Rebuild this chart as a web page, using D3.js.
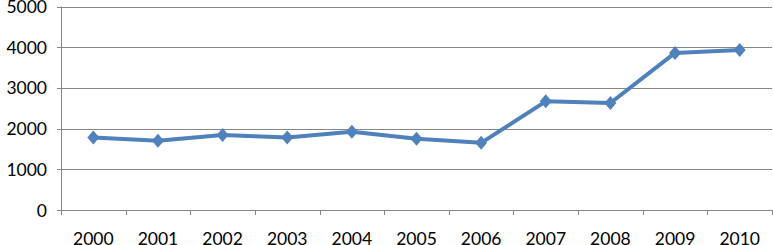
<!DOCTYPE html>
<html>
<head>
<meta charset="utf-8">
<script src="https://cdn.jsdelivr.net/npm/d3@7"></script>
<style>
  body { margin: 0; background: #fff; overflow: hidden; }
  text { font-family: Lato, "Open Sans", sans-serif; font-size: 17.5px; fill: #000; }
</style>
</head>
<body>
<div id="chart"></div>
<script>
	/*Data*/
	var years = ["2000","2001","2002","2003","2004","2005","2006","2007","2008","2009","2010"];
	var values = [1780, 1700, 1840, 1780, 1920, 1750, 1650, 2670, 2630, 3860, 3930];
	var yTicks = [0, 1000, 2000, 3000, 4000, 5000];

	/*SVG Size*/
	var width = 773;
	var height = 245;
	var plotLeft = 61, plotRight = 772, plotTop = 6.5, plotBottom = 210;

	var svg = d3.select("#chart").append("svg")
				.attr("width", width)
				.attr("height", height)
				.style("display", "block");

	var x = d3.scaleBand().domain(years).range([plotLeft, plotRight]);
	var y = d3.scaleLinear().domain([0, 5000]).range([plotBottom, plotTop]);

	/*Grid*/
	svg.append("g")
	   .selectAll("line")
	   .data(yTicks)
	   .enter().append("line")
	   .attr("x1", plotLeft - 4)
	   .attr("x2", plotRight)
	   .attr("y1", function(d){ return Math.round(y(d)) + 0.5; })
	   .attr("y2", function(d){ return Math.round(y(d)) + 0.5; })
	   .attr("stroke", "#878787")
	   .attr("stroke-width", 1);

	/*Y labels*/
	svg.append("g")
	   .selectAll("text")
	   .data(yTicks)
	   .enter().append("text")
	   .attr("x", 47)
	   .attr("y", function(d){ return y(d) + 6.5; })
	   .attr("text-anchor", "end")
	   .text(function(d){ return d; });

	/*Y axis line*/
	svg.append("line")
	   .attr("x1", plotLeft + 0.5).attr("x2", plotLeft + 0.5)
	   .attr("y1", plotTop).attr("y2", plotBottom)
	   .attr("stroke", "#878787");

	/*X ticks*/
	var edges = years.map(function(d){ return x(d); }).concat([plotRight]);
	svg.append("g")
	   .selectAll("line")
	   .data(edges)
	   .enter().append("line")
	   .attr("x1", function(d){ return Math.round(d) + 0.5; })
	   .attr("x2", function(d){ return Math.round(d) + 0.5; })
	   .attr("y1", plotBottom)
	   .attr("y2", plotBottom + 5)
	   .attr("stroke", "#878787");

	svg.append("g")
	   .selectAll("text")
	   .data(years)
	   .enter().append("text")
	   .attr("x", function(d){ return x(d) + x.bandwidth()/2; })
	   .attr("y", 245)
	   .attr("text-anchor", "middle")
	   .text(function(d){ return d; });

	/*Line*/
	var line = d3.line()
				 .x(function(d, i){ return x(years[i]) + x.bandwidth()/2; })
				 .y(function(d){ return y(d); });

	svg.append("path")
	   .datum(values)
	   .attr("d", line)
	   .attr("fill", "none")
	   .attr("stroke", "#4F81BD")
	   .attr("stroke-width", 4)
	   .attr("stroke-linejoin", "round");

	/*Markers*/
	svg.append("g")
	   .selectAll("path")
	   .data(values)
	   .enter().append("path")
	   .attr("transform", function(d, i){ return "translate(" + (x(years[i]) + x.bandwidth()/2) + "," + y(d) + ")"; })
	   .attr("d", "M0,-7L6,0L0,7L-6,0Z")
	   .attr("fill", "#4F81BD");
</script>
</body>
</html>
